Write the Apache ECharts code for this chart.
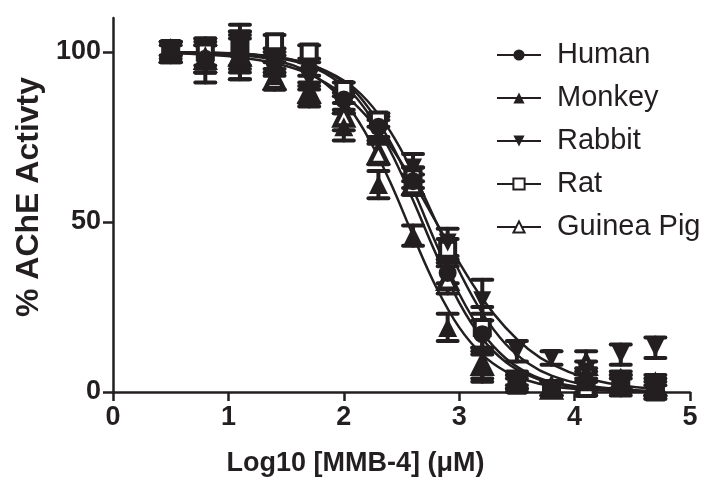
<!DOCTYPE html>
<html>
<head>
<meta charset="utf-8">
<script src="https://cdn.jsdelivr.net/npm/echarts@6.0.0/dist/echarts.min.js"></script>
<style>
  html, body { margin: 0; padding: 0; background: #fff; }
  #chart { width: 714px; height: 483px; }
</style>
</head>
<body>
<div id="chart"></div>
<script>
// measured points (log10 dose, % activity, SD)
const doses = [0.5, 0.8, 1.1, 1.4, 1.7, 2.0, 2.3, 2.6, 2.9, 3.2, 3.5, 3.8, 4.1, 4.4, 4.7];
const human = [100, 98, 99, 97, 95, 86, 78, 62, 35, 17, 4, 1, 3, 2, 1];
const monkey = [100, 99, 100, 93, 87, 78, 61, 46, 19, 8, 3, 1, 3, 3, 1];
const rabbit = [101, 97, 100, 96, 92, 85, 77, 66, 44, 27, 12, 10, 6, 11, 13];
const rat = [101, 100, 101, 103, 100, 89, 80, 63, 42, 19, 2, 1, 1, 2, 0];
const guineaPig = [100, 98, 99, 92, 88, 81, 70, 61, 33, 8, 3, 1, 8, 3, 2];

const humanErr = [2, 4, 7, 3, 2, 3, 3, 4, 3, 6, 2, 2, 3, 3, 3];
const monkeyErr = [3, 5, 8, 4, 3, 4, 4, 3, 4, 4, 2, 2, 4, 2, 2];
const rabbitErr = [2, 6, 5, 3, 3, 3, 3, 4, 4, 6, 3, 2, 3, 3, 3];
const ratErr = [2, 4, 5, 2, 2, 2, 2, 3, 3, 6, 2, 2, 2, 2, 2];
const guineaPigErr = [3, 4, 5, 3, 3, 4, 3, 3, 4, 5, 2, 2, 4, 3, 3];

// fitted curves
const curveX = [0.5, 0.8, 1.1, 1.4, 1.7, 2.0, 2.2, 2.4, 2.6, 2.8, 3.0, 3.2, 3.4, 3.6, 3.8, 4.1, 4.4, 4.7];
const humanFit = [99.9, 99.8, 99.5, 98.6, 96.4, 91.1, 84.2, 73.7, 59.6, 43.6, 28.9, 17.5, 10.0, 5.5, 3.0, 1.2, 0.4, 0.2];
const monkeyFit = [99.9, 99.6, 99.1, 97.6, 93.9, 85.5, 75.5, 61.9, 46.0, 30.9, 19.0, 11.0, 6.1, 3.3, 1.7, 0.7, 0.3, 0.1];
const rabbitFit = [99.6, 99.2, 98.4, 96.7, 93.5, 87.4, 81.0, 72.5, 61.9, 50.0, 38.1, 27.5, 19.0, 12.6, 8.2, 4.1, 2.0, 1.0];
const ratFit = [99.9, 99.7, 99.4, 98.5, 96.4, 91.6, 85.8, 76.8, 64.5, 50.0, 35.5, 23.2, 14.2, 8.4, 4.8, 2.0, 0.8, 0.3];
const guineaPigFit = [99.9, 99.8, 99.4, 98.4, 95.9, 90.0, 82.5, 71.1, 56.4, 40.5, 26.3, 15.7, 8.9, 4.9, 2.6, 1.0, 0.4, 0.1];

const xTicks = [0, 1, 2, 3, 4, 5];
const yTicks = [0, 50, 100];

const ink = '#231f20';
const downTri = 'path://M0,0 L10,0 L5,9 Z';

const groups = [
  { name: 'Human', mean: human, err: humanErr, fit: humanFit, symbol: 'circle', size: 18, fill: ink, border: 0 },
  { name: 'Monkey', mean: monkey, err: monkeyErr, fit: monkeyFit, symbol: 'triangle', size: 19, fill: ink, border: 0 },
  { name: 'Rabbit', mean: rabbit, err: rabbitErr, fit: rabbitFit, symbol: downTri, size: 18, fill: ink, border: 0 },
  { name: 'Rat', mean: rat, err: ratErr, fit: ratFit, symbol: 'rect', size: 15, fill: '#fff', border: 4 },
  { name: 'Guinea Pig', mean: guineaPig, err: guineaPigErr, fit: guineaPigFit, symbol: 'triangle', size: 18, fill: '#fff', border: 4.5 }
];

const pair = (xs, ys) => xs.map((x, i) => [x, ys[i]]);

const curveSeries = groups.map(g => ({
  name: g.name,
  type: 'line',
  data: pair(curveX, g.fit),
  smooth: 0.4,
  showSymbol: false,
  symbol: g.symbol,
  symbolSize: 14,
  lineStyle: { color: ink, width: 2.5 },
  itemStyle: { color: g.fill, borderColor: ink, borderWidth: g.border ? 3.5 : 0 },
  silent: true,
  z: 2
}));

const errSeries = groups.map(g => ({
  name: g.name + ' SD',
  type: 'custom',
  data: doses.map((x, i) => [x, g.mean[i] - g.err[i], g.mean[i] + g.err[i]]),
  renderItem: function (params, api) {
    const lo = api.coord([api.value(0), api.value(1)]);
    const hi = api.coord([api.value(0), api.value(2)]);
    const half = 10;
    const st = { stroke: ink, lineWidth: 4, lineCap: 'round' };
    return {
      type: 'group',
      children: [
        { type: 'line', shape: { x1: lo[0], y1: lo[1], x2: hi[0], y2: hi[1] }, style: st },
        { type: 'line', shape: { x1: lo[0] - half, y1: lo[1], x2: lo[0] + half, y2: lo[1] }, style: st },
        { type: 'line', shape: { x1: hi[0] - half, y1: hi[1], x2: hi[0] + half, y2: hi[1] }, style: st }
      ]
    };
  },
  silent: true,
  z: 3
}));

// filled markers end up on top, as in the figure
const pointSeries = groups.slice().reverse().map(g => ({
  name: g.name + ' pts',
  type: 'scatter',
  data: pair(doses, g.mean),
  symbol: g.symbol,
  symbolSize: g.size,
  itemStyle: { color: g.fill, borderColor: ink, borderWidth: g.border, opacity: 1 },
  silent: true,
  z: 4
}));

const chart = echarts.init(document.getElementById('chart'));
const option = {
  animation: false,
  backgroundColor: '#fff',
  grid: { left: 113, right: 24, top: 18, bottom: 91 },
  legend: {
    data: groups.map(g => g.name),
    orient: 'vertical',
    left: 491,
    top: 35,
    itemWidth: 44,
    itemHeight: 14,
    itemGap: 13,
    textStyle: {
      fontFamily: 'Liberation Sans',
      fontSize: 29,
      color: ink,
      lineHeight: 30,
      padding: [0, 0, 0, 11]
    },
    selectedMode: false
  },
  xAxis: {
    type: 'value',
    min: 0,
    max: 5,
    interval: 1,
    name: 'Log10 [MMB-4] (\u03bcM)',
    nameLocation: 'middle',
    nameGap: 58,
    nameTextStyle: { fontFamily: 'Liberation Sans', fontWeight: 'bold', fontSize: 27, color: ink, padding: [0, 92, 0, 0] },
    axisLine: { onZero: false, lineStyle: { color: ink, width: 2.5 } },
    axisTick: { length: 9, lineStyle: { color: ink, width: 2.5 }, customValues: xTicks },
    axisLabel: { margin: 12, fontFamily: 'Liberation Sans', fontWeight: 'bold', fontSize: 27, color: ink, customValues: xTicks },
    splitLine: { show: false }
  },
  yAxis: {
    type: 'value',
    min: 0,
    max: 110,
    interval: 50,
    name: '% AChE Activty',
    nameLocation: 'middle',
    nameGap: 63,
    nameTextStyle: { fontFamily: 'Liberation Sans', fontWeight: 'bold', fontSize: 32, color: ink, padding: [0, 0, 0, 16] },
    axisLine: { onZero: false, lineStyle: { color: ink, width: 2.5 } },
    axisTick: { length: 10, lineStyle: { color: ink, width: 2.5 }, customValues: yTicks },
    axisLabel: { margin: 12, fontFamily: 'Liberation Sans', fontWeight: 'bold', fontSize: 27, color: ink, customValues: yTicks },
    splitLine: { show: false }
  },
  series: [...curveSeries, ...errSeries, ...pointSeries]
};
chart.setOption(option);
</script>
</body>
</html>
